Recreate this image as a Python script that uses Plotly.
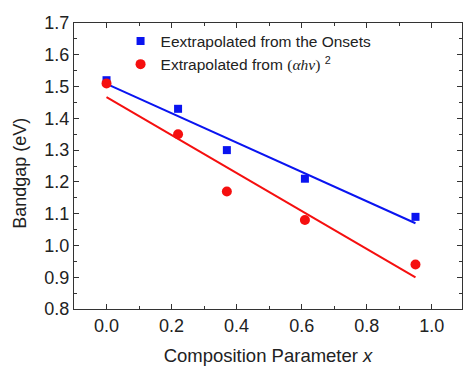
import numpy as np
import plotly.graph_objects as go

# Composition parameter x and the two sets of bandgap estimates (eV)
composition = [0.0, 0.22, 0.37, 0.61, 0.95]
gap_onsets = [1.52, 1.43, 1.30, 1.21, 1.09]
gap_tauc = [1.51, 1.35, 1.17, 1.08, 0.94]

x_ticks = [0.0, 0.2, 0.4, 0.6, 0.8, 1.0]
y_ticks = [0.8, 0.9, 1.0, 1.1, 1.2, 1.3, 1.4, 1.5, 1.6, 1.7]

BLUE = "#0a14f0"
RED = "#f50f0f"
FONT = "Liberation Sans"

fig = go.Figure()

# Linear fits drawn across the measured composition span
for ys, color in ((gap_onsets, BLUE), (gap_tauc, RED)):
    slope, intercept = np.polyfit(composition, ys, 1)
    xs = np.array([composition[0], composition[-1]])
    fig.add_trace(go.Scatter(
        x=xs, y=slope * xs + intercept, mode="lines",
        line=dict(color=color, width=2), showlegend=False, hoverinfo="skip"))

fig.add_trace(go.Scatter(
    x=composition, y=gap_onsets, mode="markers",
    name="Eextrapolated from the Onsets",
    marker=dict(symbol="square", size=8, color=BLUE)))
fig.add_trace(go.Scatter(
    x=composition, y=gap_tauc, mode="markers",
    name=("Extrapolated from "
          "<span style='font-family:Liberation Serif'>(<i>αhν</i>)</span> <sup>2</sup>"),
    marker=dict(symbol="circle", size=10, color=RED)))

axis_common = dict(
    showline=True, linecolor="#333", linewidth=1.2, mirror="allticks",
    ticks="inside", ticklen=5, tickwidth=1.2, tickcolor="#333",
    showgrid=False, zeroline=False, tickformat=".1f",
    tickfont=dict(family=FONT, size=18, color="#222"),
)

fig.update_xaxes(
    range=[-0.1, 1.093], tickvals=x_ticks,
    minor=dict(ticks="inside", ticklen=3, tickcolor="#333", dtick=0.1, tick0=0),
    title=dict(text="Composition Parameter <i>x</i>",
               font=dict(family=FONT, size=18.5, color="#222"), standoff=17),
    **axis_common)
fig.update_yaxes(
    range=[0.8, 1.7], tickvals=y_ticks,
    minor=dict(ticks="inside", ticklen=3, tickcolor="#333", dtick=0.05, tick0=0.8),
    **axis_common)

fig.add_annotation(
    text="Bandgap (eV)", textangle=-90, xref="paper", yref="paper",
    x=-0.14, y=0.475, xanchor="center", yanchor="middle", showarrow=False,
    font=dict(family=FONT, size=18, color="#222"))

fig.update_layout(
    width=463, height=366,
    margin=dict(l=74, r=0, t=23, b=53),
    paper_bgcolor="white", plot_bgcolor="white",
    font=dict(family=FONT, color="#222"),
    legend=dict(x=0.12, y=0.995, xanchor="left", yanchor="top",
                bgcolor="rgba(0,0,0,0)",
                font=dict(family=FONT, size=15.5, color="#222")),
)

fig.write_html("out.html")
